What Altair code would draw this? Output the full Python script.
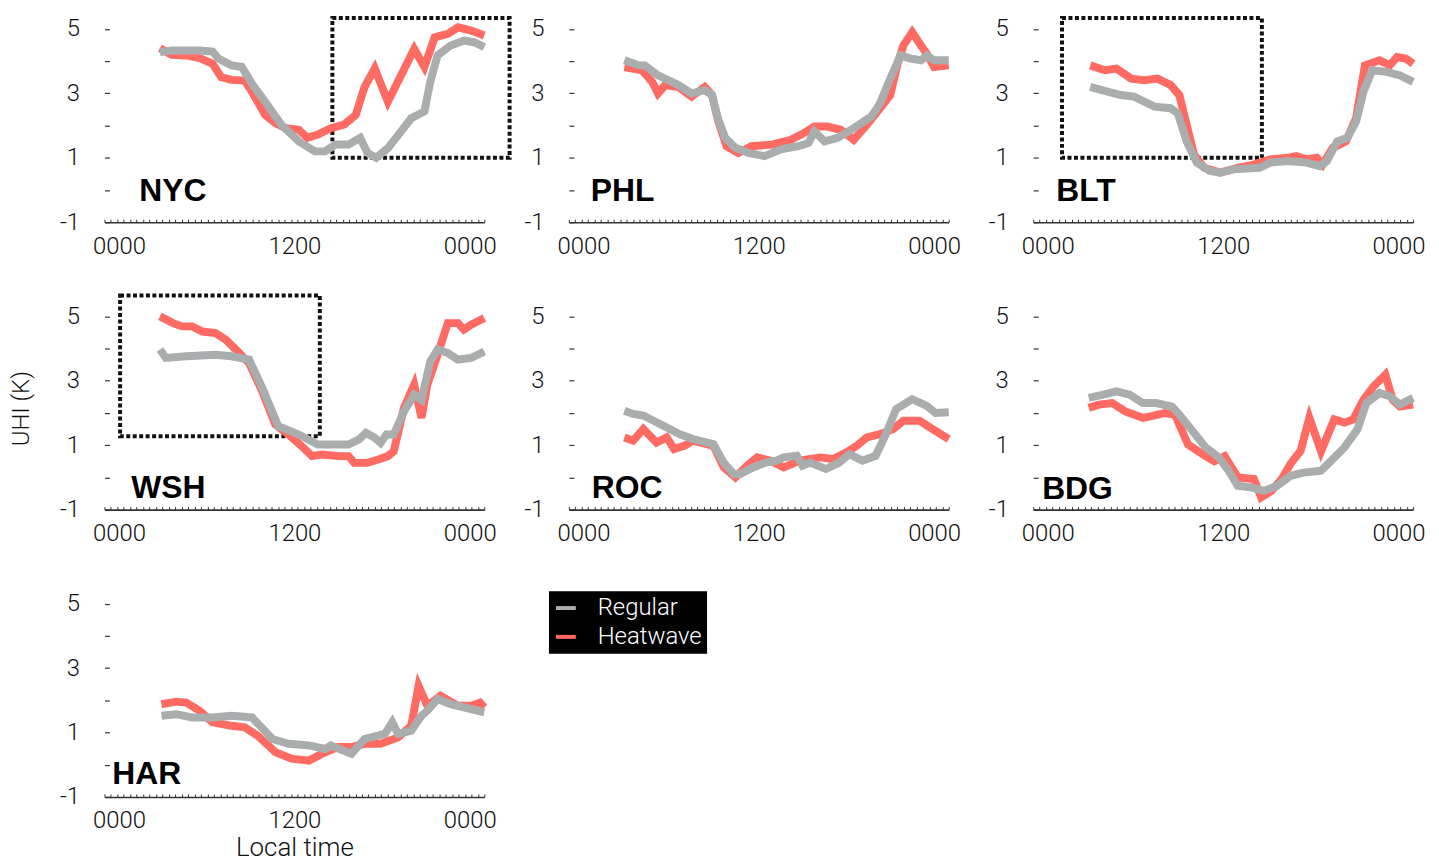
import altair as alt
import pandas as pd

RED = "#FF6A62"
GRAY = "#A9ADAD"
FONT = "Roboto"

CITIES = ["NYC", "PHL", "BLT", "WSH", "ROC", "BDG", "HAR"]

# ---- data: hours (local time, 24 = midnight next day) and UHI (K) ----
NYC_HW_T = [2.8, 3.6, 4.6, 5.5, 6.4, 7.0, 7.7, 8.6, 9.1, 10.0, 10.7, 11.4, 12.3, 12.9, 13.6, 14.5, 15.4, 16.2, 16.8, 17.5, 18.4, 20.2, 20.9, 21.6, 22.5, 23.2, 24.1, 25.0]
NYC_HW_V = [4.4, 4.2, 4.18, 4.1, 3.92, 3.5, 3.42, 3.4, 3.05, 2.33, 2.08, 1.92, 1.87, 1.62, 1.72, 1.92, 2.03, 2.33, 3.2, 3.77, 2.74, 4.38, 3.82, 4.74, 4.85, 5.05, 4.95, 4.8]
NYC_RG_T = [2.8, 3.6, 5.5, 6.4, 6.8, 7.7, 8.4, 9.1, 10.0, 11.1, 12.3, 13.4, 14.1, 14.8, 15.7, 16.5, 17.0, 17.6, 18.4, 19.3, 20.0, 20.9, 21.3, 21.8, 22.7, 23.6, 24.3, 25.0]
NYC_RG_V = [4.28, 4.33, 4.33, 4.3, 4.08, 3.87, 3.82, 3.3, 2.74, 2.03, 1.51, 1.2, 1.2, 1.41, 1.41, 1.62, 1.15, 1.0, 1.3, 1.82, 2.23, 2.44, 3.36, 4.18, 4.49, 4.64, 4.59, 4.44]

PHL_HW_T = [2.8, 4.0, 4.7, 5.1, 5.6, 6.5, 7.4, 8.3, 8.8, 9.2, 9.8, 10.6, 11.5, 12.9, 14.2, 15.1, 15.8, 16.7, 17.6, 18.5, 19.4, 20.3, 21.0, 21.5, 21.9, 22.5, 23.1, 23.5, 24.0, 25.0]
PHL_HW_V = [3.82, 3.72, 3.36, 3.0, 3.26, 3.2, 2.9, 3.2, 2.95, 2.18, 1.36, 1.15, 1.36, 1.41, 1.56, 1.77, 1.97, 1.97, 1.87, 1.56, 2.03, 2.54, 2.95, 3.92, 4.49, 4.9, 4.49, 4.23, 3.82, 3.87]
PHL_RG_T = [2.8, 3.8, 4.2, 5.1, 6.5, 7.4, 8.3, 8.8, 9.2, 9.7, 10.4, 11.3, 12.4, 13.5, 14.7, 15.4, 15.8, 16.5, 17.4, 18.5, 19.7, 20.3, 21.0, 21.7, 22.4, 23.1, 23.5, 24.0, 25.0]
PHL_RG_V = [4.03, 3.87, 3.87, 3.56, 3.26, 3.0, 3.1, 2.95, 2.23, 1.62, 1.31, 1.15, 1.05, 1.26, 1.36, 1.46, 1.82, 1.51, 1.62, 1.92, 2.28, 2.69, 3.46, 4.18, 4.08, 4.03, 4.18, 4.03, 4.03]

BLT_HW_T = [2.9, 3.9, 4.7, 5.7, 6.6, 7.5, 8.4, 9.0, 9.5, 10.0, 10.7, 11.8, 13.0, 14.1, 15.2, 16.4, 17.0, 17.7, 18.4, 18.8, 19.5, 20.4, 21.1, 21.7, 22.7, 23.4, 23.9, 24.5, 25.0]
BLT_HW_V = [3.87, 3.72, 3.77, 3.46, 3.41, 3.46, 3.26, 2.95, 2.03, 1.1, 0.69, 0.54, 0.69, 0.79, 0.95, 1.0, 1.05, 0.95, 1.0, 0.79, 1.31, 1.51, 2.23, 3.87, 4.03, 3.87, 4.13, 4.08, 3.92]
BLT_RG_T = [2.9, 3.7, 5.0, 5.9, 7.3, 8.4, 8.9, 9.5, 10.2, 11.1, 11.8, 12.7, 14.5, 15.2, 16.4, 17.7, 18.6, 19.1, 19.8, 20.5, 21.1, 21.6, 22.2, 23.2, 24.1, 25.0]
BLT_RG_V = [3.2, 3.1, 2.95, 2.9, 2.59, 2.54, 2.38, 1.51, 0.85, 0.59, 0.54, 0.64, 0.69, 0.85, 0.9, 0.85, 0.74, 0.9, 1.51, 1.62, 2.13, 3.05, 3.72, 3.67, 3.56, 3.36]

WSH_HW_T = [2.8, 3.7, 4.3, 5.0, 5.7, 6.6, 7.3, 8.0, 8.9, 9.8, 10.7, 11.6, 12.5, 13.2, 13.9, 15.0, 15.7, 16.1, 17.0, 17.7, 18.4, 18.8, 19.5, 20.2, 20.7, 21.1, 21.8, 22.5, 23.2, 23.6, 24.1, 25.0]
WSH_HW_V = [5.0, 4.79, 4.69, 4.69, 4.53, 4.48, 4.28, 3.97, 3.55, 2.67, 1.64, 1.33, 0.97, 0.66, 0.71, 0.66, 0.66, 0.45, 0.45, 0.55, 0.66, 0.81, 2.16, 2.88, 1.85, 2.88, 3.81, 4.79, 4.79, 4.59, 4.74, 4.95]
WSH_RG_T = [2.8, 3.2, 4.6, 6.6, 7.7, 8.9, 9.8, 10.9, 12.3, 13.6, 14.5, 15.7, 16.4, 16.9, 17.5, 17.9, 18.3, 18.8, 19.5, 20.2, 20.7, 21.3, 21.8, 22.5, 23.2, 24.1, 25.0]
WSH_RG_V = [3.97, 3.71, 3.76, 3.81, 3.76, 3.66, 2.78, 1.59, 1.33, 1.02, 1.02, 1.02, 1.17, 1.38, 1.23, 1.07, 1.33, 1.33, 2.05, 2.57, 2.41, 3.6, 3.97, 3.86, 3.66, 3.71, 3.91]

ROC_HW_T = [2.8, 3.4, 4.1, 5.0, 5.7, 6.2, 6.9, 7.5, 8.9, 9.6, 10.4, 11.2, 11.9, 12.8, 13.7, 14.8, 16.2, 17.1, 18.0, 18.7, 19.4, 20.3, 21.2, 21.9, 23.0, 23.9, 25.0]
ROC_HW_V = [1.24, 1.14, 1.5, 1.08, 1.24, 0.88, 0.98, 1.14, 0.98, 0.31, 0.0, 0.36, 0.62, 0.52, 0.31, 0.52, 0.62, 0.57, 0.78, 0.98, 1.24, 1.34, 1.5, 1.76, 1.76, 1.5, 1.19]
ROC_RG_T = [2.8, 3.4, 4.1, 4.8, 5.9, 6.6, 7.5, 8.9, 9.6, 10.3, 10.7, 11.6, 12.5, 13.2, 13.7, 14.6, 15.0, 15.5, 16.6, 17.5, 18.2, 19.1, 20.0, 20.7, 21.4, 22.5, 23.5, 24.1, 25.0]
ROC_RG_V = [2.07, 1.97, 1.92, 1.76, 1.5, 1.34, 1.19, 1.03, 0.46, 0.1, 0.1, 0.31, 0.46, 0.52, 0.62, 0.67, 0.36, 0.46, 0.26, 0.46, 0.72, 0.52, 0.67, 1.34, 2.12, 2.43, 2.22, 2.0, 2.02]

BDG_HW_T = [2.8, 3.5, 4.4, 5.3, 6.5, 7.1, 8.0, 8.7, 9.6, 10.8, 11.4, 12.1, 13.0, 14.1, 14.6, 15.3, 16.0, 16.6, 17.3, 17.9, 18.7, 19.6, 20.3, 20.9, 21.6, 22.3, 23.1, 23.6, 24.1, 25.0]
BDG_HW_V = [2.16, 2.26, 2.31, 2.05, 1.85, 1.9, 2.0, 1.95, 1.02, 0.66, 0.5, 0.66, 0.0, -0.05, -0.62, -0.42, -0.05, 0.41, 0.83, 1.85, 0.81, 1.8, 1.7, 1.8, 2.41, 2.83, 3.19, 2.41, 2.2, 2.26]
BDG_RG_T = [2.8, 3.8, 4.7, 5.6, 6.5, 7.4, 8.5, 9.0, 9.9, 10.8, 11.7, 12.3, 13.0, 13.9, 14.8, 15.7, 16.6, 17.5, 18.7, 19.4, 20.3, 21.2, 21.8, 22.7, 23.4, 24.1, 25.0]
BDG_RG_V = [2.47, 2.57, 2.67, 2.57, 2.31, 2.31, 2.2, 1.95, 1.44, 0.93, 0.62, 0.26, -0.26, -0.31, -0.42, -0.26, 0.05, 0.15, 0.21, 0.52, 0.93, 1.5, 2.31, 2.62, 2.52, 2.26, 2.47]

HAR_HW_T = [2.9, 3.9, 4.6, 5.5, 6.4, 7.7, 8.6, 9.5, 10.7, 11.8, 13.0, 14.1, 15.0, 15.9, 16.8, 17.9, 19.1, 20.0, 20.5, 21.1, 22.0, 23.2, 24.1, 24.7, 25.0]
HAR_HW_V = [1.88, 1.96, 1.93, 1.68, 1.32, 1.21, 1.16, 0.9, 0.39, 0.19, 0.13, 0.39, 0.55, 0.55, 0.65, 0.65, 0.85, 1.21, 2.45, 1.83, 2.14, 1.83, 1.83, 1.93, 1.78]
HAR_RG_T = [2.9, 3.9, 5.0, 6.4, 7.7, 9.1, 10.5, 11.6, 13.0, 14.1, 14.5, 15.9, 16.8, 18.2, 18.7, 19.1, 20.0, 20.7, 21.1, 21.8, 22.7, 23.6, 25.0]
HAR_RG_V = [1.52, 1.57, 1.47, 1.47, 1.52, 1.47, 0.8, 0.65, 0.6, 0.49, 0.6, 0.34, 0.8, 0.96, 1.32, 0.96, 1.06, 1.52, 1.68, 2.04, 1.88, 1.78, 1.63]

SERIES = {
    "NYC": (NYC_RG_T, NYC_RG_V, NYC_HW_T, NYC_HW_V),
    "PHL": (PHL_RG_T, PHL_RG_V, PHL_HW_T, PHL_HW_V),
    "BLT": (BLT_RG_T, BLT_RG_V, BLT_HW_T, BLT_HW_V),
    "WSH": (WSH_RG_T, WSH_RG_V, WSH_HW_T, WSH_HW_V),
    "ROC": (ROC_RG_T, ROC_RG_V, ROC_HW_T, ROC_HW_V),
    "BDG": (BDG_RG_T, BDG_RG_V, BDG_HW_T, BDG_HW_V),
    "HAR": (HAR_RG_T, HAR_RG_V, HAR_HW_T, HAR_HW_V),
}

# ---- annotation layout (data units) ----
LABEL_POS = {"NYC": (1.38, -0.35), "PHL": (0.5, -0.35), "BLT": (0.57, -0.35),
             "WSH": (0.84, -0.63), "ROC": (0.57, -0.63), "BDG": (-0.39, -0.66),
             "HAR": (-0.46, -0.6)}
BOXES = {"NYC": (14.6, 26.73, 1.0, 5.34), "BLT": (0.97, 14.65, 1.0, 5.34),
         "WSH": (0.07, 13.74, 1.28, 5.65)}

TICKS = [round(-1 + i * 26 / 59, 4) for i in range(60)]
XS = alt.Scale(domain=[-1, 25], nice=False, zero=False)
YS = alt.Scale(domain=[-1, 5.3], nice=False, zero=False)
W, H = 382, 204

LEGEND = alt.Legend(orient="none", legendX=447, legendY=575, title=None,
                    fillColor="black", padding=5, symbolType="stroke",
                    symbolStrokeWidth=4, symbolSize=400, labelColor="white",
                    labelFontSize=24, labelFont=FONT, labelFontWeight=300,
                    rowPadding=5, labelOffset=20,
                    labelExpr="datum.label + '\u00a0\u00a0\u00a0\u00a0'")


def yaxis(title):
    kw = dict(values=[-1, 0, 1, 2, 3, 4, 5],
              labelExpr="datum.value % 2 != 0 ? '' + datum.value : ''",
              domain=False, ticks=True, tickSize=5, offset=-5, tickColor="#333",
              tickWidth=1.2, labelPadding=25, labelFontSize=24, labelFont=FONT,
              labelFontWeight=300, labelColor="#111", grid=False, labelOverlap=False)
    if title:
        kw.update(title=title, titleFontSize=24, titleFont=FONT, titleFontWeight=300,
                  titlePadding=26, titleColor="#111")
    else:
        kw.update(title=None)
    return alt.Axis(**kw)


def xaxis_main(title):
    kw = dict(orient="bottom", values=[0, 12, 24],
              labelExpr="datum.value == 12 ? '1200' : '0000'",
              ticks=False, domain=True, domainColor="#333", domainWidth=1.6,
              labelFontSize=24, labelFont=FONT, labelFontWeight=300, labelColor="#111",
              labelPadding=12, grid=False, labelFlush=False, labelOverlap=False)
    if title:
        kw.update(title=title, titleFontSize=26, titleFont=FONT, titleFontWeight=300,
                  titlePadding=2, titleColor="#111")
    else:
        kw.update(title=None)
    return alt.Axis(**kw)


XAXIS_TICKS = alt.Axis(orient="bottom", values=TICKS, labels=False, domain=False,
                       ticks=True, tickSize=3, offset=-3, tickColor="#333",
                       tickWidth=1, grid=False, title=None)


def panel(city, ytitle=None, xtitle=None):
    rt, rv, ht, hv = SERIES[city]
    df = pd.DataFrame({"t": ht + rt, "v": hv + rv,
                       "series": ["Heatwave"] * len(ht) + ["Regular"] * len(rt)})
    ya = yaxis(ytitle)
    lines = alt.Chart(df).mark_line(strokeWidth=8, strokeJoin="miter").encode(
        x=alt.X("t:Q", scale=XS, axis=xaxis_main(xtitle)),
        y=alt.Y("v:Q", scale=YS, axis=ya),
        color=alt.Color("series:N",
                        scale=alt.Scale(domain=["Regular", "Heatwave"], range=[GRAY, RED]),
                        legend=LEGEND),
    )
    lx, ly = LABEL_POS[city]
    lab = alt.Chart(pd.DataFrame({"x": [lx], "y": [ly], "name": [city]})).mark_text(
        align="left", baseline="alphabetic", font="Liberation Sans", fontWeight="bold",
        fontSize=32, color="#000").encode(
        x=alt.X("x:Q", scale=XS, axis=XAXIS_TICKS),
        y=alt.Y("y:Q", scale=YS, axis=ya),
        text="name:N")
    layers = []
    if city in BOXES:
        x1, x2, y1, y2 = BOXES[city]
        box = alt.Chart(pd.DataFrame({"x1": [x1], "x2": [x2], "y1": [y1], "y2": [y2]})).mark_rect(
            fillOpacity=0, stroke="#111", strokeWidth=4, strokeDash=[4, 2.5]).encode(
            x=alt.X("x1:Q", scale=XS, axis=None), x2="x2:Q",
            y=alt.Y("y1:Q", scale=YS, axis=ya), y2="y2:Q")
        layers.append(box)
    layers += [lines, lab]
    return alt.layer(*layers).resolve_axis(x="independent").properties(width=W, height=H)


panels = []
for c in CITIES:
    if c == "WSH":
        panels.append(panel(c, ytitle="UHI (K)"))
    elif c == "HAR":
        panels.append(panel(c, xtitle="Local time"))
    else:
        panels.append(panel(c))

chart = alt.concat(*panels, columns=3, spacing=85, bounds="flush").properties(
    padding={"left": 1, "top": 1, "right": 2, "bottom": 0}
).configure_view(stroke=None).configure_axis(grid=False)

chart.save("out.html", embed_options={"renderer": "svg", "actions": False})
